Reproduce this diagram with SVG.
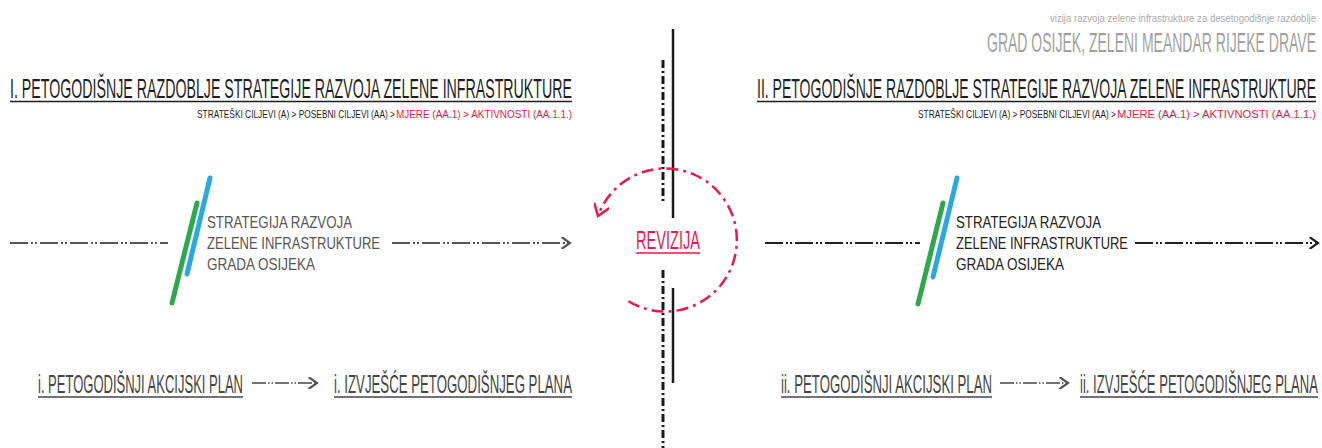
<svg xmlns="http://www.w3.org/2000/svg" width="1322" height="448" viewBox="0 0 1322 448">
<style>
.t{font-family:"Liberation Sans",Arial,sans-serif}
.hd{font-size:28px;fill:#1e1e1e}
.sub{font-size:10.5px;fill:#1e1e1e}
.red{fill:#e8194b}
.mid{font-size:17px}
.bt{font-size:25px;fill:#444}
.ul{stroke-width:1.4}
.dd{fill:none;stroke-width:1.8;stroke-dasharray:18 3 2 2 2 3}
.g{stroke:#2da84a;stroke-width:5;stroke-linecap:round}
.b{stroke:#2aa8e0;stroke-width:5;stroke-linecap:round}
</style>
<defs>
<marker id="chevL" viewBox="0 0 10 10" refX="8" refY="5" markerWidth="12" markerHeight="12" markerUnits="userSpaceOnUse" orient="auto">
<path d="M1 0 L8 5 L1 10" fill="none" stroke="#555" stroke-width="1.8"/>
</marker>
<marker id="chevD" viewBox="0 0 10 10" refX="8" refY="5" markerWidth="12" markerHeight="12" markerUnits="userSpaceOnUse" orient="auto">
<path d="M1 0 L8 5 L1 10" fill="none" stroke="#222" stroke-width="1.8"/>
</marker>
<marker id="chevR" viewBox="0 0 10 10" refX="8" refY="5" markerWidth="16" markerHeight="16" markerUnits="userSpaceOnUse" orient="auto">
<path d="M1 0 L8 5 L1 10" fill="none" stroke="#e8194b" stroke-width="1.6"/>
</marker>
</defs>

<g id="title">
<text class="t" x="1316" y="22" text-anchor="end" font-size="10" fill="#aaa" textLength="266" lengthAdjust="spacingAndGlyphs">vizija razvoja zelene infrastrukture za desetogodišnje razdoblje</text>
<text class="t" x="987" y="52" font-size="28" fill="#a0a0a0" textLength="329" lengthAdjust="spacingAndGlyphs">GRAD OSIJEK, ZELENI MEANDAR RIJEKE DRAVE</text>
</g>

<g id="header-1">
<text class="t hd" x="10" y="98" textLength="562" lengthAdjust="spacingAndGlyphs">I. PETOGODIŠNJE RAZDOBLJE STRATEGIJE RAZVOJA ZELENE INFRASTRUKTURE</text>
<line x1="10" y1="101.5" x2="572" y2="101.5" stroke="#1e1e1e" class="ul"/>
<text class="t sub" x="197" y="118" textLength="198" lengthAdjust="spacingAndGlyphs">STRATEŠKI CILJEVI (A) &gt; POSEBNI CILJEVI (AA) &gt;</text>
<text class="t sub red" x="396" y="118" textLength="176" lengthAdjust="spacingAndGlyphs">MJERE (AA.1) &gt; AKTIVNOSTI (AA.1.1.)</text>
</g>

<g id="header-2">
<text class="t hd" x="757" y="98" textLength="559" lengthAdjust="spacingAndGlyphs">II. PETOGODIŠNJE RAZDOBLJE STRATEGIJE RAZVOJA ZELENE INFRASTRUKTURE</text>
<line x1="757" y1="101.5" x2="1316" y2="101.5" stroke="#1e1e1e" class="ul"/>
<text class="t sub" x="918" y="118" textLength="198" lengthAdjust="spacingAndGlyphs">STRATEŠKI CILJEVI (A) &gt; POSEBNI CILJEVI (AA) &gt;</text>
<text class="t sub red" x="1117" y="118" textLength="199" lengthAdjust="spacingAndGlyphs">MJERE (AA.1) &gt; AKTIVNOSTI (AA.1.1.)</text>
</g>

<g id="strategy-1">
<line class="g" x1="172" y1="303" x2="197" y2="203"/>
<line class="b" x1="187" y1="274" x2="210" y2="178"/>
<text class="t mid" fill="#555" x="207" y="228" textLength="145" lengthAdjust="spacingAndGlyphs">STRATEGIJA RAZVOJA</text>
<text class="t mid" fill="#555" x="207" y="249" textLength="173" lengthAdjust="spacingAndGlyphs">ZELENE INFRASTRUKTURE</text>
<text class="t mid" fill="#555" x="207" y="270" textLength="108" lengthAdjust="spacingAndGlyphs">GRADA OSIJEKA</text>
</g>

<g id="strategy-2">
<line class="g" x1="918" y1="304" x2="943" y2="203"/>
<line class="b" x1="933" y1="277" x2="957" y2="178"/>
<text class="t mid" fill="#222" x="956" y="228" textLength="145" lengthAdjust="spacingAndGlyphs">STRATEGIJA RAZVOJA</text>
<text class="t mid" fill="#222" x="956" y="249" textLength="172" lengthAdjust="spacingAndGlyphs">ZELENE INFRASTRUKTURE</text>
<text class="t mid" fill="#222" x="956" y="270" textLength="108" lengthAdjust="spacingAndGlyphs">GRADA OSIJEKA</text>
</g>

<g id="revizija">
<text class="t red" x="636" y="249" font-size="25" textLength="64" lengthAdjust="spacingAndGlyphs">REVIZIJA</text>
<line x1="636" y1="253" x2="700" y2="253" stroke="#e8194b" stroke-width="1.5"/>
</g>

<g id="plan-1">
<text class="t bt" x="38" y="393" textLength="205" lengthAdjust="spacingAndGlyphs">i. PETOGODIŠNJI AKCIJSKI PLAN</text>
<line x1="38" y1="397" x2="243" y2="397" stroke="#444" class="ul"/>
</g>
<g id="report-1">
<text class="t bt" x="334" y="393" textLength="238" lengthAdjust="spacingAndGlyphs">i. IZVJEŠĆE PETOGODIŠNJEG PLANA</text>
<line x1="334" y1="397" x2="572" y2="397" stroke="#444" class="ul"/>
</g>
<g id="plan-2">
<text class="t bt" x="781" y="393" textLength="211" lengthAdjust="spacingAndGlyphs">ii. PETOGODIŠNJI AKCIJSKI PLAN</text>
<line x1="781" y1="397" x2="992" y2="397" stroke="#444" class="ul"/>
</g>
<g id="report-2">
<text class="t bt" x="1080" y="393" textLength="238" lengthAdjust="spacingAndGlyphs">ii. IZVJEŠĆE PETOGODIŠNJEG PLANA</text>
<line x1="1080" y1="397" x2="1318" y2="397" stroke="#444" class="ul"/>
</g>

<g id="connectors">
<line x1="673" y1="29" x2="673" y2="218" stroke="#1a1a1a" stroke-width="2.5"/>
<line x1="673" y1="288" x2="673" y2="383" stroke="#1a1a1a" stroke-width="2.5"/>
<line x1="663" y1="60" x2="663" y2="203" stroke="#1a1a1a" stroke-width="3" stroke-dasharray="8 3 2 3"/>
<line x1="663" y1="270" x2="663" y2="448" stroke="#1a1a1a" stroke-width="3" stroke-dasharray="8 3 2 3"/>
<line class="dd" x1="10" y1="243" x2="168" y2="243" stroke="#555"/>
<line class="dd" x1="392" y1="243" x2="570" y2="243" stroke="#555" marker-end="url(#chevL)"/>
<line class="dd" x1="765" y1="243" x2="920" y2="243" stroke="#222"/>
<line class="dd" x1="1135" y1="243" x2="1318" y2="243" stroke="#222" marker-end="url(#chevD)"/>
<line x1="252" y1="383" x2="317" y2="383" stroke="#444" stroke-width="1.4" stroke-dasharray="14 2 1.5 2 1.5 2" marker-end="url(#chevL)"/>
<line x1="1000" y1="383" x2="1068" y2="383" stroke="#444" stroke-width="1.4" stroke-dasharray="14 2 1.5 2 1.5 2" marker-end="url(#chevL)"/>
<path d="M628.4 301.2 A71.5 71.5 0 1 0 598 216" fill="none" stroke="#e8194b" stroke-width="2.5" stroke-dasharray="12 5 3 5" marker-end="url(#chevR)"/>
</g>
</svg>
